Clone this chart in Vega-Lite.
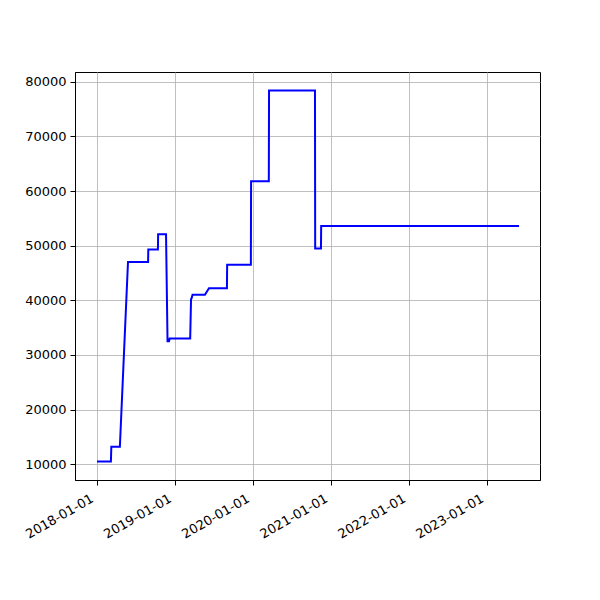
{
  "$schema": "https://vega.github.io/schema/vega-lite/v6.json",
  "width": 465,
  "height": 408,
  "autosize": {"type": "none"},
  "padding": {"left": 75, "top": 72, "right": 60, "bottom": 120},
  "background": "white",
  "config": {
    "font": "DejaVu Sans",
    "view": {"stroke": "black", "strokeWidth": 1},
    "axis": {
      "labelFont": "DejaVu Sans",
      "labelFontSize": 13,
      "labelColor": "black",
      "domainColor": "black",
      "domainWidth": 1,
      "tickColor": "black",
      "tickSize": 5,
      "tickWidth": 1,
      "gridColor": "#b0b0b0",
      "gridWidth": 0.8,
      "gridOpacity": 1,
      "labelPadding": 4,
      "title": null
    }
  },
  "data": {
    "values": [
      {"date": "2018-01-01", "value": 10500},
      {"date": "2018-03-07", "value": 10500},
      {"date": "2018-03-09", "value": 13200},
      {"date": "2018-03-22", "value": 13200},
      {"date": "2018-04-18", "value": 13200},
      {"date": "2018-05-26", "value": 47000},
      {"date": "2018-08-28", "value": 47000},
      {"date": "2018-08-29", "value": 49300},
      {"date": "2018-10-13", "value": 49300},
      {"date": "2018-10-14", "value": 52100},
      {"date": "2018-11-20", "value": 52100},
      {"date": "2018-11-27", "value": 32500},
      {"date": "2018-12-04", "value": 32500},
      {"date": "2018-12-07", "value": 33000},
      {"date": "2019-03-13", "value": 33000},
      {"date": "2019-03-17", "value": 40200},
      {"date": "2019-03-20", "value": 40400},
      {"date": "2019-03-24", "value": 41000},
      {"date": "2019-05-21", "value": 41000},
      {"date": "2019-06-09", "value": 42200},
      {"date": "2019-09-01", "value": 42200},
      {"date": "2019-09-02", "value": 46500},
      {"date": "2019-12-22", "value": 46500},
      {"date": "2019-12-23", "value": 61800},
      {"date": "2020-03-15", "value": 61800},
      {"date": "2020-03-16", "value": 78400},
      {"date": "2020-10-17", "value": 78400},
      {"date": "2020-10-18", "value": 49500},
      {"date": "2020-11-14", "value": 49500},
      {"date": "2020-11-15", "value": 53600},
      {"date": "2023-05-30", "value": 53600}
    ]
  },
  "mark": {"type": "line", "color": "#0000ff", "strokeWidth": 2, "interpolate": "linear"},
  "encoding": {
    "x": {
      "field": "date",
      "type": "temporal",
      "scale": {"domain": ["2017-09-20", "2023-09-05"], "nice": false},
      "axis": {
        "format": "%Y-%m-%d",
        "tickCount": {"interval": "year", "step": 1},
        "labelAngle": -30,
        "labelAlign": "right",
        "labelBaseline": "top",
        "labelOffset": -8,
        "labelPadding": 7,
        "labelOverlap": false
      }
    },
    "y": {
      "field": "value",
      "type": "quantitative",
      "scale": {"domain": [7105, 81795], "nice": false, "zero": false},
      "axis": {
        "values": [10000, 20000, 30000, 40000, 50000, 60000, 70000, 80000],
        "format": "d"
      }
    }
  }
}
